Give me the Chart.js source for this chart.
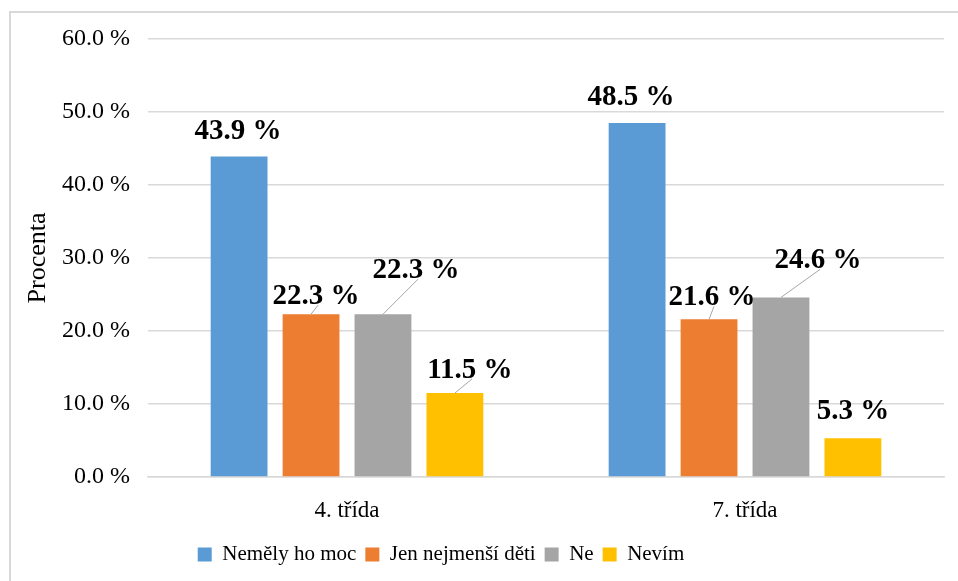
<!DOCTYPE html>
<html>
<head>
<meta charset="utf-8">
<script src="https://cdn.jsdelivr.net/npm/chart.js@4/dist/chart.umd.min.js"></script>
<style>
  html, body { margin: 0; padding: 0; background: #fff; }
  #wrap { position: relative; width: 958px; height: 581px; overflow: hidden; }
  #frame { position: absolute; left: 9px; top: 11px; width: 980px; height: 620px;
           border: 2px solid #d9d9d9; box-sizing: border-box; }
  canvas { position: absolute; left: 0; top: 0; }
</style>
</head>
<body>
<div id="wrap">
  <div id="frame"></div>
  <canvas id="c" width="958" height="581"></canvas>
</div>
<script>
// Categories (school grade) and answer shares in percent
const categories = ['4. třída', '7. třída'];
const seriesNames = ['Neměly ho moc', 'Jen nejmenší děti', 'Ne', 'Nevím'];
const nemelyHoMoc = [43.9, 48.5];
const jenNejmensiDeti = [22.3, 21.6];
const ne = [22.3, 24.6];
const nevim = [11.5, 5.3];
const yTicks = [0, 10, 20, 30, 40, 50, 60];

const colors = ['#5B9BD5', '#ED7D31', '#A5A5A5', '#FFC000'];

// Label placement relative to the top centre of each bar: [dx, dy, leader line]
const labelPlacement = [
  [[-1, -28, false], [-6, -28, false]],
  [[5, -20, true], [3, -24, true]],
  [[33, -46, true], [37, -39, true]],
  [[15, -25, true], [0, -29, false]]
];

const fmt = v => v.toFixed(1) + ' %';
const serif = "'Liberation Serif', 'Times New Roman', serif";

Chart.defaults.font.family = serif;
Chart.defaults.color = '#000';

const valueLabels = {
  id: 'valueLabels',
  afterDatasetsDraw(chart) {
    const ctx = chart.ctx;
    ctx.save();
    ctx.font = 'bold 29px ' + serif;
    ctx.textAlign = 'center';
    ctx.textBaseline = 'alphabetic';
    chart.data.datasets.forEach((ds, di) => {
      const meta = chart.getDatasetMeta(di);
      meta.data.forEach((bar, i) => {
        const [dx, dy, lead] = labelPlacement[di][i];
        const cx = bar.x + dx;
        const cy = bar.y + dy;
        if (lead) {
          ctx.strokeStyle = '#a6a6a6';
          ctx.lineWidth = 1;
          ctx.beginPath();
          ctx.moveTo(bar.x, bar.y);
          ctx.lineTo(cx + 2, cy + 11);
          ctx.stroke();
        }
        ctx.fillStyle = '#000';
        ctx.fillText(fmt(ds.data[i]), cx, cy + 10);
      });
    });
    ctx.restore();
  }
};

// Moves the legend row a little to the left of the canvas centre
const legendShift = {
  id: 'legendShift',
  afterLayout(chart) {
    const lg = chart.legend;
    if (lg) { lg.left -= 36; lg.right -= 36; }
  }
};

const seriesValues = [nemelyHoMoc, jenNejmensiDeti, ne, nevim];

new Chart(document.getElementById('c'), {
  type: 'bar',
  data: {
    labels: categories,
    datasets: seriesNames.map((name, i) => ({
      label: name,
      data: seriesValues[i],
      backgroundColor: colors[i],
      borderWidth: 0,
      categoryPercentage: 0.723,
      barPercentage: 0.79
    }))
  },
  options: {
    responsive: false,
    animation: false,
    layout: { padding: { left: 10, right: 14, top: 39, bottom: 6 } },
    plugins: {
      tooltip: { enabled: false },
      legend: {
        position: 'bottom',
        labels: {
          font: { family: serif, size: 21 },
          color: '#000',
          boxWidth: 14,
          boxHeight: 14,
          padding: 9
        }
      }
    },
    scales: {
      x: {
        grid: { display: false },
        border: { color: '#d9d9d9', width: 1.5 },
        ticks: { font: { family: serif, size: 23 }, color: '#000', padding: 12 },
        afterFit(scale) { scale.height = 58; }
      },
      y: {
        min: 0,
        max: 60,
        afterBuildTicks(scale) { scale.ticks = yTicks.map(v => ({ value: v })); },
        grid: { color: '#d9d9d9', lineWidth: 1.5, drawTicks: false },
        border: { display: false },
        ticks: {
          font: { family: serif, size: 24 },
          color: '#000',
          padding: 18,
          callback: v => fmt(v)
        },
        title: {
          display: true,
          text: 'Procenta',
          font: { family: serif, size: 26 },
          color: '#000',
          padding: { top: 13, bottom: 0 }
        },
        afterFit(scale) { scale.width = 138; }
      }
    }
  },
  plugins: [valueLabels, legendShift]
});
</script>
</body>
</html>
